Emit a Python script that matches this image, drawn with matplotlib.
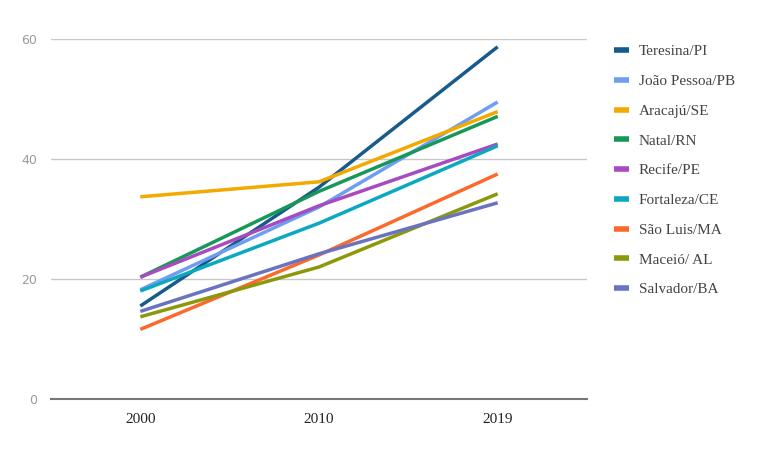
import numpy as np
import matplotlib.pyplot as plt

anos = ['2000', '2010', '2019']
cidades = ['Teresina/PI', 'João Pessoa/PB', 'Aracajú/SE', 'Natal/RN', 'Recife/PE',
           'Fortaleza/CE', 'São Luis/MA', 'Maceió/ AL', 'Salvador/BA']
teresina = [15.5, 35.3, 58.7]
joao_pessoa = [18.2, 32.0, 49.5]
aracaju = [33.7, 36.2, 47.9]
natal = [20.3, 34.6, 47.1]
recife = [20.3, 32.2, 42.5]
fortaleza = [18.0, 29.3, 42.2]
sao_luis = [11.6, 24.0, 37.5]
maceio = [13.7, 22.0, 34.2]
salvador = [14.6, 24.2, 32.7]
series = [teresina, joao_pessoa, aracaju, natal, recife, fortaleza, sao_luis, maceio, salvador]
cores = ['#175b8c', '#6d9ef0', '#f2a900', '#17975a', '#a64bc0',
         '#0aa9bf', '#fb6a2c', '#8c980c', '#6a73c0']

fig = plt.figure(figsize=(7.8, 4.54), dpi=100)
ax = fig.add_axes([51/780, 1 - 399/454, (587-51)/780, (399-39)/454])

x = np.arange(len(anos))
for nome, vals, c in zip(cidades, series, cores):
    ax.plot(x, vals, color=c, lw=2.5, label=nome, solid_capstyle='butt')

ax.set_xlim(-0.5, 2.5)
ax.set_ylim(0, 60)
ax.set_yticks([0, 20, 40, 60])
ax.set_xticks(x)
ax.set_xticklabels(anos, family='Liberation Serif', fontsize=11, color='#222222')
ax.tick_params(axis='y', length=0, labelsize=9, labelcolor='#9a9a9a', pad=10)
ax.tick_params(axis='x', length=0, pad=10)
ax.grid(axis='y', color='#c8c8c8', lw=1)
ax.set_axisbelow(True)
for s in ['top', 'right', 'left']:
    ax.spines[s].set_visible(False)
ax.spines['bottom'].set_color('#777777')
ax.spines['bottom'].set_linewidth(1.5)

lgd = fig.legend(loc='upper left', bbox_to_anchor=(600/780, 1 - 31/454), frameon=False,
                 prop={'family': 'Liberation Serif', 'size': 11}, handlelength=1.0,
                 labelspacing=1.05, handletextpad=0.65)
for t in lgd.get_texts():
    t.set_color('#444444')
for h in lgd.get_lines():
    h.set_linewidth(4)

fig.savefig('out.png', dpi=100)
